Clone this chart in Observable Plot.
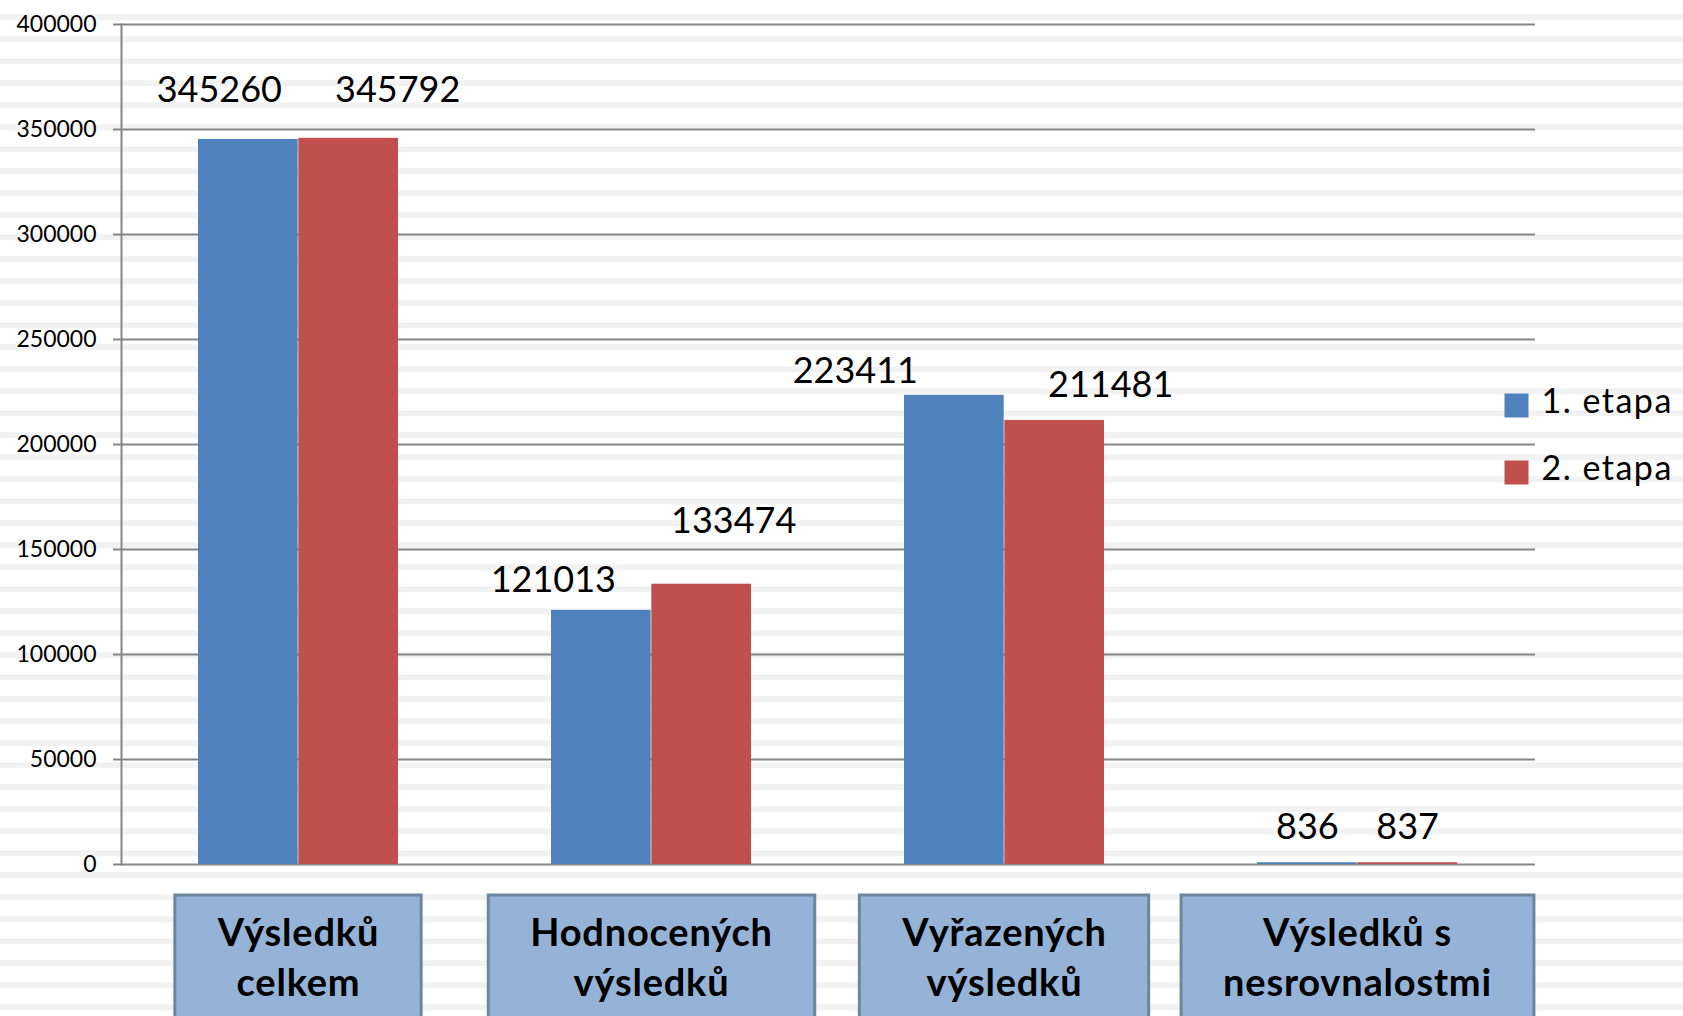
<!DOCTYPE html>
<html>
<head>
<meta charset="utf-8">
<script src="https://cdn.jsdelivr.net/npm/d3@7"></script>
<script src="https://cdn.jsdelivr.net/npm/@observablehq/plot@0.6"></script>
<style>
  html, body { margin: 0; padding: 0; overflow: hidden; }
  body {
    width: 1683px; height: 1016px;
    background: repeating-linear-gradient(to bottom, #ffffff 0px, #ffffff 16px, #f2f2f2 16px, #f2f2f2 22px);
    background-position: 0 -1.7px;
    font-family: Lato, sans-serif;
  }
</style>
</head>
<body>
<div id="chart"></div>
<script>
// ---- data ----
const categories = ["Výsledků celkem", "Hodnocených výsledků", "Vyřazených výsledků", "Výsledků s nesrovnalostmi"];
const tickLabels = ["Výsledků\ncelkem", "Hodnocených\nvýsledků", "Vyřazených\nvýsledků", "Výsledků s\nnesrovnalostmi"];
const series = ["1. etapa", "2. etapa"];
const etapa1 = [345260, 121013, 223411, 836];
const etapa2 = [345792, 133474, 211481, 837];
const yTicks = [0, 50000, 100000, 150000, 200000, 250000, 300000, 350000, 400000];

// ---- styles / layout ----
const colors = ["#4f81bd", "#c0504d"];
const W = 1683, H = 1016;
const M = {top: 24, right: 148, bottom: 152, left: 121};
const padInner = 0.4324, padOuter = padInner / 2;
const plotW = W - M.left - M.right;
const step = plotW / (categories.length - padInner + 2 * padOuter);
const half = step * (1 - padInner) / 2;
// hand-placed label nudges (px) as in the original
const labelDx = [[-29, 49], [-48, 32], [-99, 56], [0, 0]];
const labelDy = [[-37.5, -36.5], [-18, -51.5], [-12, -23], [-24, -24]];

const values = [etapa1, etapa2];
const rows = [];
series.forEach((s, si) => categories.forEach((c, ci) => rows.push({cat: c, series: s, si, ci, value: values[si][ci]})));

const marks = [
  Plot.gridY(yTicks, {stroke: "#868686", strokeOpacity: 1, strokeWidth: 2}),
  Plot.frame({anchor: "left", stroke: "#868686", strokeWidth: 2}),
  Plot.axisY(yTicks, {tickSize: 8, tickPadding: 17, fontSize: 23, stroke: "#868686", strokeWidth: 2, fill: "#000", tickFormat: d => String(d), label: null}),
  ...series.map((s, si) => Plot.barY(rows.filter(r => r.si === si), {
    x: "cat", y: "value", fill: colors[si],
    insetLeft: si === 0 ? 0 : half, insetRight: si === 0 ? half : 0
  })),
  ...rows.map(r => Plot.text([r], {
    x: "cat", y: "value", text: d => String(d.value),
    fontSize: 36, fill: "#000", lineAnchor: "bottom",
    dx: (r.si === 0 ? -half / 2 : half / 2) + labelDx[r.ci][r.si],
    dy: labelDy[r.ci][r.si]
  })),
  Plot.text(categories, {
    x: d => d, text: (d, i) => tickLabels[i],
    frameAnchor: "bottom", lineAnchor: "bottom", dy: 131,
    fontSize: 38, fontWeight: "bold", lineHeight: 50 / 38, fill: "#000",
    ariaDescription: "category-labels"
  }),
  ...series.map((s, si) => Plot.dot([s], {
    frameAnchor: "right", dx: -19, dy: -39 + si * 67,
    symbol: "square", r: 13.54, fill: colors[si], stroke: null
  })),
  ...series.map((s, si) => Plot.text([s], {
    text: d => d, frameAnchor: "right", textAnchor: "start", lineAnchor: "bottom",
    dx: 6, dy: -31.3 + si * 67, fontSize: 34, fill: "#000",
    ariaDescription: "legend-text"
  }))
];

const chart = Plot.plot({
  width: W, height: H,
  marginTop: M.top, marginRight: M.right, marginBottom: M.bottom, marginLeft: M.left,
  style: {background: "transparent", fontFamily: "Lato, sans-serif", overflow: "visible"},
  x: {type: "band", domain: categories, paddingInner: padInner, paddingOuter: padOuter, axis: null},
  y: {domain: [0, 400000], axis: null},
  marks
});
document.getElementById("chart").append(chart);

chart.querySelectorAll('g[aria-description="legend-text"] text').forEach(t => { t.style.letterSpacing = "1.5px"; });

// boxes behind category labels (inserted into the same group so they share its transform)
const g = chart.querySelector('g[aria-description="category-labels"]');
if (g) {
  const texts = Array.from(g.querySelectorAll("text"));
  texts.forEach(t => { t.style.letterSpacing = "0.8px"; });
  const gm = g.transform && g.transform.baseVal && g.transform.baseVal.numberOfItems ? g.transform.baseVal.consolidate().matrix : {e: 0, f: 0};
  const y0 = chart.scale("y").apply(0) - gm.f;
  const ns = "http://www.w3.org/2000/svg";
  texts.forEach(t => {
    const bb = t.getBBox();
    let tx = 0;
    const tl = t.transform && t.transform.baseVal;
    if (tl && tl.numberOfItems) tx = tl.consolidate().matrix.e;
    const r = document.createElementNS(ns, "rect");
    r.setAttribute("x", tx + bb.x - 42);
    r.setAttribute("y", y0 + 31);
    r.setAttribute("width", bb.width + 84);
    r.setAttribute("height", 200);
    r.setAttribute("fill", "#95b3d7");
    r.setAttribute("stroke", "#6b879e");
    r.setAttribute("stroke-width", 3);
    g.insertBefore(r, g.firstChild);
  });
}
</script>
</body>
</html>
